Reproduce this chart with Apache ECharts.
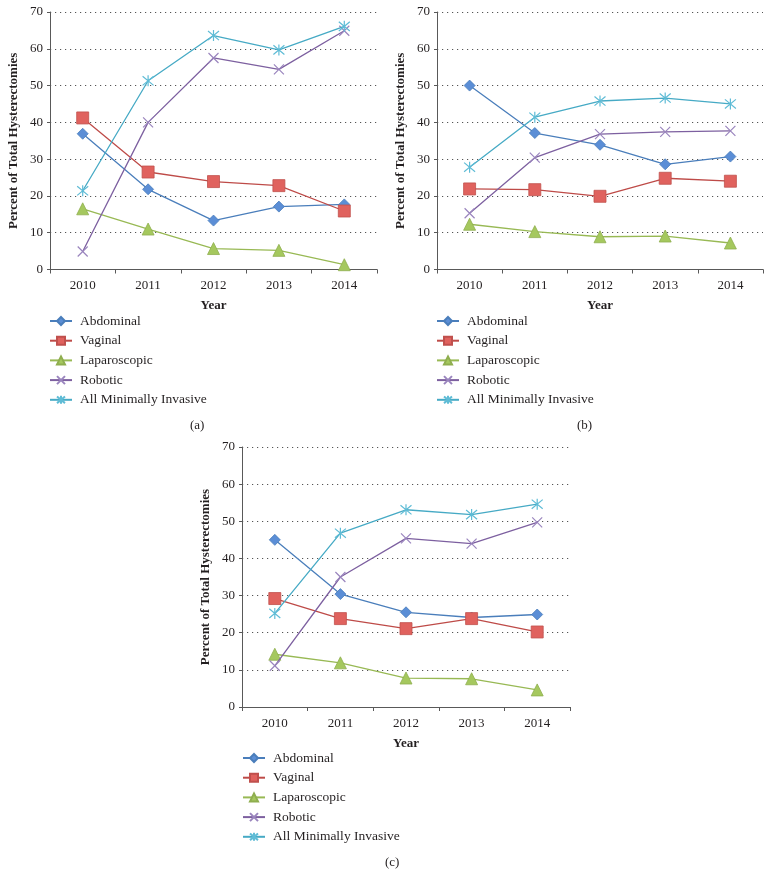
<!DOCTYPE html>
<html><head><meta charset="utf-8">
<script src="https://cdn.jsdelivr.net/npm/echarts@6/dist/echarts.min.js"></script>
<style>html,body{margin:0;padding:0;background:#fff}#c{width:772px;height:889px}</style>
</head><body><div id="c"></div>
<script>
const years = ['2010','2011','2012','2013','2014'];
const seriesNames = ['Abdominal','Vaginal','Laparoscopic','Robotic','All Minimally Invasive'];
const panelLabels = ['(a)','(b)','(c)'];
const yTicks = [0,10,20,30,40,50,60,70];

// Panel (a)
const aAbdominal = [36.9, 21.8, 13.3, 17.1, 17.7];
const aVaginal = [41.2, 26.5, 23.9, 22.8, 15.9];
const aLaparoscopic = [16.5, 11.0, 5.7, 5.2, 1.3];
const aRobotic = [4.9, 40.0, 57.5, 54.4, 64.9];
const aAllMI = [21.4, 51.3, 63.6, 59.7, 66.1];
// Panel (b)
const bAbdominal = [50.0, 37.1, 33.9, 28.6, 30.7];
const bVaginal = [21.9, 21.7, 19.9, 24.8, 24.0];
const bLaparoscopic = [12.3, 10.3, 8.9, 9.1, 7.2];
const bRobotic = [15.3, 30.4, 36.8, 37.4, 37.7];
const bAllMI = [27.8, 41.4, 45.8, 46.6, 45.0];
// Panel (c)
const cAbdominal = [45.0, 30.4, 25.5, 24.1, 24.9];
const cVaginal = [29.2, 23.8, 21.1, 23.8, 20.2];
const cLaparoscopic = [14.2, 11.9, 7.8, 7.6, 4.6];
const cRobotic = [11.1, 35.0, 45.4, 44.0, 49.7];
const cAllMI = [25.2, 46.8, 53.1, 51.8, 54.6];

const panels = [
  [aAbdominal, aVaginal, aLaparoscopic, aRobotic, aAllMI],
  [bAbdominal, bVaginal, bLaparoscopic, bRobotic, bAllMI],
  [cAbdominal, cVaginal, cLaparoscopic, cRobotic, cAllMI]
];

const FONT = '"Liberation Serif", "DejaVu Serif", serif';
const TXT = '#231f20';

const styles = [
  {line:'#4A7EBB', symbol:'diamond', size:11, item:{color:'#5B8ED6', borderColor:'#4A7EBB', borderWidth:0.8}},
  {line:'#BE4B48', symbol:'rect', size:12, item:{color:'#E0625E', borderColor:'#C0504D', borderWidth:0.8}},
  {line:'#98B954', symbol:'triangle', size:12, item:{color:'#A5C85E', borderColor:'#8FAE4F', borderWidth:0.8}},
  {line:'#7D60A0', symbol:'path://M0 0L10 10M10 0L0 10', size:10, item:{color:'rgba(0,0,0,0)', borderColor:'#9A85BE', borderWidth:1.2}},
  {line:'#46AAC5', symbol:'path://M0 0L10 10M10 0L0 10M5 -1L5 11', size:11, item:{color:'rgba(0,0,0,0)', borderColor:'#5FBCD6', borderWidth:1.2}}
];

const grids = [
  {left:50, top:12, width:327, height:257.5},
  {left:437, top:12, width:326, height:257.5},
  {left:242, top:447, width:328, height:260}
];
const legendPos = [
  {left:49, top:314},
  {left:436, top:314},
  {left:242, top:751}
];
const labelPos = [
  {left:190, top:419},
  {left:577, top:419},
  {left:385, top:856}
];

const xAxes = [], yAxes = [], series = [], legends = [], titles = [];
grids.forEach((g, gi) => {
  xAxes.push({
    type:'category', gridIndex:gi, data:years, boundaryGap:true,
    name:'Year', nameLocation:'middle', nameGap:30,
    nameTextStyle:{fontFamily:FONT, fontWeight:'bold', fontSize:13, color:TXT},
    axisLine:{lineStyle:{color:'#595959', width:1}},
    axisTick:{show:true, length:4, lineStyle:{color:'#595959'}},
    axisLabel:{fontFamily:FONT, fontSize:13, color:TXT, margin:10}
  });
  yAxes.push({
    type:'value', gridIndex:gi, min:yTicks[0], max:yTicks[yTicks.length-1], interval:10,
    name:'Percent of Total Hysterectomies', nameLocation:'middle', nameGap:30, nameRotate:90,
    nameTextStyle:{fontFamily:FONT, fontWeight:'bold', fontSize:13, color:TXT},
    axisLine:{show:true, lineStyle:{color:'#595959', width:1}},
    axisTick:{show:true, length:3, lineStyle:{color:'#595959'}},
    axisLabel:{fontFamily:FONT, fontSize:13, color:TXT, margin:7},
    splitLine:{show:true, lineStyle:{color:'#555', width:1.2, type:[1.2,3.8]}}
  });
  panels[gi].forEach((vals, si) => {
    const st = styles[si];
    series.push({
      type:'line', name:seriesNames[si], xAxisIndex:gi, yAxisIndex:gi, data:vals,
      symbol:st.symbol, symbolSize:st.size, showAllSymbol:true,
      lineStyle:{color:st.line, width:1.3},
      itemStyle:st.item, z: 2 + si,
      emphasis:{disabled:true}, animation:false
    });
  });
  legends.push(Object.assign({
    orient:'vertical', data:seriesNames, itemWidth:22, itemHeight:10, itemGap:5.7,
    textStyle:{fontFamily:FONT, fontSize:13.5, lineHeight:14, color:TXT, padding:[0,0,0,3]},
    selectedMode:false, padding:0
  }, legendPos[gi]));
  titles.push(Object.assign({
    text:panelLabels[gi], textStyle:{fontFamily:FONT, fontSize:13, fontWeight:'normal', color:TXT}, padding:0
  }, labelPos[gi]));
});

const chart = echarts.init(document.getElementById('c'), null, {renderer:'canvas'});
chart.setOption({
  animation:false, backgroundColor:'#fff',
  title:titles, grid:grids, xAxis:xAxes, yAxis:yAxes, legend:legends, series:series
});
</script></body></html>
